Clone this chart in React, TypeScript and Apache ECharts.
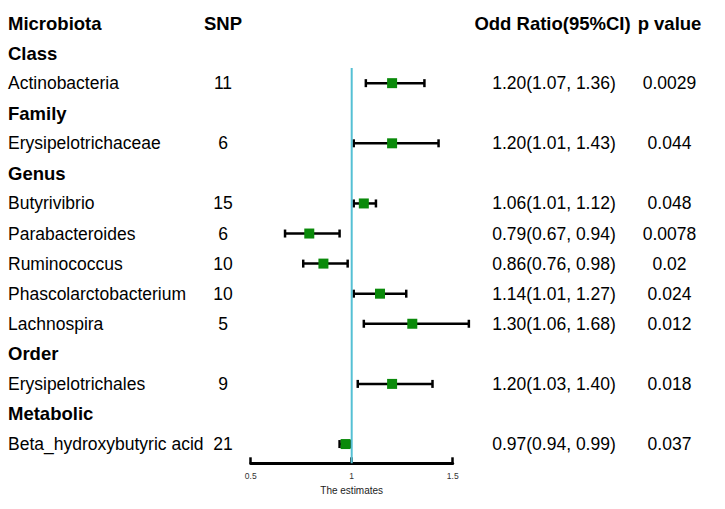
import React, { useEffect, useRef } from "react";
import * as echarts from "echarts";

const headers = ["Microbiota", "SNP", "Odd Ratio(95%CI)", "p value"];
const rowLabels = [
  "Class", "Actinobacteria", "Family", "Erysipelotrichaceae", "Genus",
  "Butyrivibrio", "Parabacteroides", "Ruminococcus", "Phascolarctobacterium",
  "Lachnospira", "Order", "Erysipelotrichales", "Metabolic", "Beta_hydroxybutyric acid",
];
const isGroup = [true, false, true, false, true, false, false, false, false, false, true, false, true, false];
const snp = ["", "11", "", "6", "", "15", "6", "10", "10", "5", "", "9", "", "21"];
const estimate = [null, 1.2, null, 1.2, null, 1.06, 0.79, 0.86, 1.14, 1.3, null, 1.2, null, 0.97];
const lower = [null, 1.07, null, 1.01, null, 1.01, 0.67, 0.76, 1.01, 1.06, null, 1.03, null, 0.94];
// upper whisker as drawn in the picture (Lachnospira's bar ends near 1.58)
const upper = [null, 1.36, null, 1.43, null, 1.12, 0.94, 0.98, 1.27, 1.58, null, 1.4, null, 0.99];
const orText = [
  "", "1.20(1.07, 1.36)", "", "1.20(1.01, 1.43)", "", "1.06(1.01, 1.12)",
  "0.79(0.67, 0.94)", "0.86(0.76, 0.98)", "1.14(1.01, 1.27)", "1.30(1.06, 1.68)",
  "", "1.20(1.03, 1.40)", "", "0.97(0.94, 0.99)",
];
const pValue = ["", "0.0029", "", "0.044", "", "0.048", "0.0078", "0.02", "0.024", "0.012", "", "0.018", "", "0.037"];
const xMin = 0.5;
const xMax = 1.5;
const xInterval = 0.5;
const refValue = 1;

const FONT = '"Liberation Sans", Arial, Helvetica, sans-serif';

export default function App() {
  const ref = useRef<HTMLDivElement>(null);
  useEffect(() => {
    if (!ref.current) return;
    const chart = echarts.init(ref.current, undefined, { renderer: "svg" });

    const W = 725;
    const H = 509;
    const top = 7.97;
    const axisY = 463.3;
    const yMin = -0.5;
    const yMax = 14.64;
    const rowH = (axisY - top) / (yMax - yMin);
    const rowY = (i: number) => top + (i - yMin) * rowH;

    const colX = { label: 8, snp: 223, or: 554, p: 669.5 };
    const headerX = { label: 8, snp: 223, or: 552.5, p: 669.5 };

    const texts: any[] = [];
    const mk = (text: string, x: number, y: number, align: string, bold: boolean, size: number) => ({
      type: "text",
      x,
      y,
      silent: true,
      style: {
        text,
        fill: "#000",
        font: `${bold ? "bold " : ""}${size}px ${FONT}`,
        align,
        verticalAlign: "middle",
      },
    });
    texts.push(mk(headers[0], headerX.label, rowY(0), "left", true, 18.5));
    texts.push(mk(headers[1], headerX.snp, rowY(0), "center", true, 18.5));
    texts.push(mk(headers[2], headerX.or, rowY(0), "center", true, 18.5));
    texts.push(mk(headers[3], headerX.p, rowY(0), "center", true, 18.5));
    rowLabels.forEach((lab, k) => {
      const r = k + 1;
      const y = rowY(r);
      if (isGroup[k]) {
        texts.push(mk(lab, colX.label, y, "left", true, 18.5));
      } else {
        texts.push(mk(lab, colX.label, y, "left", false, 17.5));
        texts.push(mk(snp[k], colX.snp, y, "center", false, 17.5));
        texts.push(mk(orText[k], colX.or, y, "center", false, 17.5));
        texts.push(mk(pValue[k], colX.p, y, "center", false, 17.5));
      }
    });

    const data: number[][] = [];
    estimate.forEach((e, k) => {
      if (e != null) data.push([e, lower[k] as number, upper[k] as number, k + 1]);
    });

    chart.setOption({
      animation: false,
      grid: { left: 250.7, right: W - 452.7, top, bottom: H - axisY, containLabel: false },
      xAxis: {
        type: "value",
        position: "bottom",
        min: xMin,
        max: xMax,
        interval: xInterval,
        axisLine: { show: true, onZero: false, lineStyle: { color: "#000", width: 3 } },
        axisTick: { show: true, inside: true, length: 6, lineStyle: { color: "#000", width: 2.5 } },
        splitLine: { show: false },
        axisLabel: { fontSize: 8.5, color: "#333", margin: 8, fontFamily: FONT },
        name: "The estimates",
        nameLocation: "middle",
        nameGap: 19,
        nameTextStyle: { fontSize: 10, color: "#222", fontFamily: FONT },
      },
      yAxis: { type: "value", min: yMin, max: yMax, inverse: true, show: false },
      series: [
        {
          type: "custom",
          z: 2,
          clip: false,
          data,
          encode: { x: [0, 1, 2], y: 3 },
          renderItem: (_params: any, api: any) => {
            const row = api.value(3);
            const pe = api.coord([api.value(0), row]);
            const pl = api.coord([api.value(1), row]);
            const pu = api.coord([api.value(2), row]);
            const cap = 4;
            const box = 10;
            const ls = { stroke: "#000", lineWidth: 2.5 };
            return {
              type: "group",
              children: [
                { type: "line", shape: { x1: pl[0], y1: pl[1], x2: pu[0], y2: pu[1] }, style: ls },
                { type: "line", shape: { x1: pl[0], y1: pl[1] - cap, x2: pl[0], y2: pl[1] + cap }, style: ls },
                { type: "line", shape: { x1: pu[0], y1: pu[1] - cap, x2: pu[0], y2: pu[1] + cap }, style: ls },
                { type: "rect", shape: { x: pe[0] - box / 2, y: pe[1] - box / 2, width: box, height: box }, style: { fill: "#0A8A0A" } },
              ],
            };
          },
        },
        {
          type: "line",
          z: 3,
          symbol: "none",
          silent: true,
          data: [[refValue, 1.5], [refValue, yMax]],
          lineStyle: { color: "#55C0D4", width: 2 },
        },
      ],
      graphic: texts,
    });
    return () => chart.dispose();
  }, []);
  return (
    <div
      ref={ref}
      style={{ position: "fixed", left: 0, top: 0, width: 725, height: 509, background: "#fff" }}
    />
  );
}
